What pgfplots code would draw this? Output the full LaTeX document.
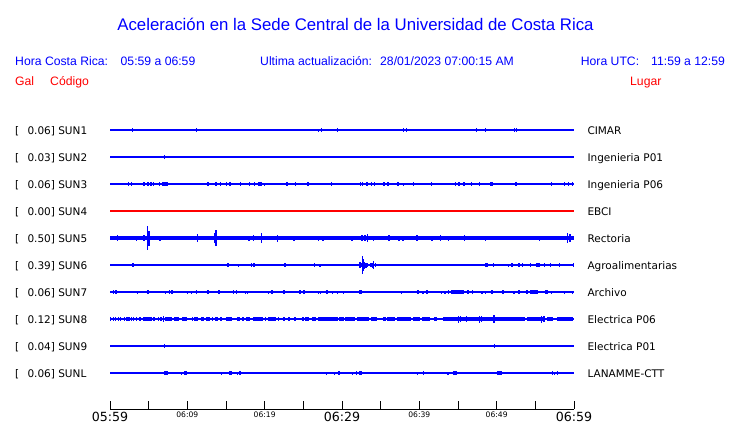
\documentclass[border=0pt]{standalone}
\usepackage{pgfplots}
\pgfplotsset{compat=1.18}
\usepackage{fontspec}
\setmainfont{Liberation Sans}
\newfontfamily\dejavu{DejaVu Sans}
\definecolor{pblue}{RGB}{0,0,255}
\definecolor{pred}{RGB}{255,0,0}
\pgfplotsset{
  spikes/.style={draw=none, mark=none, forget plot,
    error bars/.cd, y dir=both, y explicit, error mark=none,
    error bar style={draw=pblue, line width=1.3bp}},
  blocks/.style={draw=none, mark=none, forget plot,
    error bars/.cd, x dir=both, x explicit, error mark=none,
    error bar style={draw=pblue, line width=#1}},
  blocks/.default=3.3bp,
  base/.style={draw=pblue, line width=1.2bp, mark=none},
}
\newcommand{\hd}{\fontsize{12.2bp}{14bp}\selectfont}
\newcommand{\lb}{\dejavu\fontsize{10.5bp}{12bp}\selectfont}
\newcommand{\bigt}[1]{{\dejavu\fontsize{12.6bp}{12bp}\selectfont #1}}
\newcommand{\smt}[1]{{\dejavu\fontsize{7.6bp}{8bp}\selectfont #1}}
\begin{document}
\begin{tikzpicture}
\path[use as bounding box] (0,0) rectangle (740bp,-423bp);
% title and header
\node[anchor=base, text=pblue, inner sep=0pt] at (355.5bp,-30bp) {\fontsize{16.8bp}{20bp}\selectfont Aceleración en la Sede Central de la Universidad de Costa Rica};
\node[anchor=base west, text=pblue, inner sep=0pt] at (15bp,-65bp) {\hd Hora Costa Rica:};
\node[anchor=base west, text=pblue, inner sep=0pt] at (120.5bp,-65bp) {\hd 05:59 a 06:59};
\node[anchor=base west, text=pblue, inner sep=0pt] at (260bp,-65bp) {\hd Ultima actualización:};
\node[anchor=base west, text=pblue, inner sep=0pt] at (380bp,-65bp) {\hd 28/01/2023 07:00:15 AM};
\node[anchor=base west, text=pblue, inner sep=0pt] at (580.7bp,-65bp) {\hd Hora UTC:};
\node[anchor=base west, text=pblue, inner sep=0pt] at (651bp,-65bp) {\hd 11:59 a 12:59};
\node[anchor=base west, text=pred, inner sep=0pt] at (15bp,-85bp) {\hd Gal};
\node[anchor=base west, text=pred, inner sep=0pt] at (50bp,-85bp) {\hd Código};
\node[anchor=base west, text=pred, inner sep=0pt] at (630bp,-85bp) {\hd Lugar};
% station labels
\foreach \yy/\amp/\cod/\lug in {134.3/0.06/SUN1/CIMAR, 161.3/0.03/SUN2/Ingenieria P01, 188.3/0.06/SUN3/Ingenieria P06, 215.3/0.00/SUN4/EBCI, 242.3/0.50/SUN5/Rectoria, 269.3/0.39/SUN6/Agroalimentarias, 296.3/0.06/SUN7/Archivo, 323.3/0.12/SUN8/Electrica P06, 350.3/0.04/SUN9/Electrica P01, 377.3/0.06/SUNL/LANAMME-CTT}{
  \node[anchor=base west, inner sep=0pt] at (15bp,-\yy bp) {\lb [};
  \node[anchor=base west, inner sep=0pt] at (27.3bp,-\yy bp) {\lb \amp] \cod};
  \node[anchor=base west, inner sep=0pt] at (587.3bp,-\yy bp) {\lb \lug};
}
\begin{axis}[at={(110bp,-409bp)}, anchor=south west, scale only axis,
  width=464bp, height=290bp, xmin=0, xmax=60, ymin=0, ymax=290,
  axis x line=bottom, axis y line=none,
  axis line style={-, black, line width=0.8bp},
  xtick={0,5,...,60},
  xticklabels={\bigt{05:59},,\smt{06:09},,\smt{06:19},,\bigt{06:29},,\smt{06:39},,\smt{06:49},,\bigt{06:59}},
  tick align=inside, major tick length=8bp,
  tick style={black, line width=0.8bp},
  xticklabel style={text=black, inner sep=2.5bp},
  clip=false]
% ---- SUN1 (CIMAR)
\addplot[base] coordinates {(0,279) (60,279)};
\addplot[spikes] table[x=t, y expr=279, y error=a] {
t a
2.89 1.7
11.16 1.7
26.94 1.5
27.33 1.7
29.39 1.7
37.93 1.7
38.32 1.7
47.37 1.7
48.53 1.7
49.96 1.0
52.29 1.7
52.59 1.7
};
% ---- SUN2
\addplot[base] coordinates {(0,252) (60,252)};
\addplot[spikes] table[x=t, y expr=252, y error=a] {
t a
7.03 1.8
};
% ---- SUN3
\addplot[base] coordinates {(0,225) (60,225)};
\addplot[spikes] table[x=t, y expr=225, y error=a] {
t a
0.95 1.0
2.37 1.7
2.76 1.7
3.15 1.0
5.65 1.7
6.38 1.7
8.45 1.0
14.31 1.7
15.04 1.7
16.85 1.7
18.01 1.7
18.66 1.7
19.95 1.5
22.41 1.0
22.89 1.7
23.96 1.7
28.62 1.7
31.33 1.0
32.42 1.7
32.67 1.7
33.84 1.7
34.23 1.7
35.95 1.7
37.93 1.5
39.22 1.7
41.55 1.7
42.71 1.0
43.75 1.0
44.70 1.7
45.13 1.7
46.72 1.7
47.76 1.7
52.50 1.7
54.48 1.0
57.07 1.7
58.80 1.7
59.31 1.7
59.83 1.7
};
\addplot[blocks] table[x expr={(\thisrow{t0}+\thisrow{t1})/2}, y expr=225, x error expr={(\thisrow{t1}-\thisrow{t0})/2}] {
t0 t1
4.30 4.50
4.81 5.01
5.20 5.40
6.77 7.55
12.53 12.73
13.61 13.81
15.42 15.62
19.18 19.61
25.46 25.66
33.09 33.29
35.29 35.49
37.10 37.30
45.68 45.88
49.20 49.52
};
% ---- SUN4
\addplot[draw=pred, line width=1.2bp, mark=none] coordinates {(0,198) (60,198)};
% ---- SUN5 (Rectoria)
\addplot[blocks=3.6bp] table[x expr={(\thisrow{t0}+\thisrow{t1})/2}, y expr=171, x error expr={(\thisrow{t1}-\thisrow{t0})/2}] {
t0 t1
0.0 60.0
};
\addplot[spikes] table[x=t, y expr=171, y error=a] {
t a
0.99 3
3.45 2.5
4.40 3
4.83 12.3
5.05 7.5
6.47 2.5
11.29 4.3
12.63 2.2
13.55 5
13.71 8.3
15.09 2.2
17.97 2.5
18.53 3
19.57 4.7
21.68 3.5
22.20 2.2
23.79 2.5
26.99 2.5
27.54 2.5
28.54 2.2
29.35 2.2
31.29 2.5
32.59 3
32.98 3
33.32 4
34.10 2.5
36.08 3
37.37 2.5
37.89 2.5
39.70 3
41.64 2.5
42.71 3
43.80 2.5
44.78 2.2
45.82 3
46.90 2.2
48.58 2.5
48.84 2.2
53.45 2
54.48 2.2
54.79 2.2
55.52 2.5
59.19 5
59.49 4
};
% ---- SUN6 (Agroalimentarias)
\addplot[base] coordinates {(0,144) (60,144)};
\addplot[spikes] table[x=t, y expr=144, y error=a] {
t a
1.21 1.0
3.79 1.0
6.51 1.0
15.20 2.2
16.59 1.5
18.32 1.7
22.59 1.7
26.47 1.7
27.16 1.5
31.12 1.0
31.64 1.0
32.33 3
32.63 9.3
32.72 6
32.85 3.5
33.10 2.5
33.71 2
33.95 2.5
34.10 4
34.31 2
37.41 1.0
48.58 1.7
48.75 1.7
49.57 1.7
51.55 1.5
51.98 1.7
52.85 1.7
53.36 1.7
54.35 1.7
56.21 1.7
56.94 1.7
58.10 1.7
};
\addplot[blocks] table[x expr={(\thisrow{t0}+\thisrow{t1})/2}, y expr=144, x error expr={(\thisrow{t1}-\thisrow{t0})/2}] {
t0 t1
2.87 3.07
15.07 15.40
18.55 18.75
22.49 22.69
32.50 33.40
33.60 33.80
52.75 52.95
55.10 55.60
59.85 60.00
};
% ---- SUN7 (Archivo)
\addplot[base] coordinates {(0,117) (60,117)};
\addplot[spikes] table[x=t, y expr=117, y error=a] {
t a
0.43 1.7
0.78 1.7
1.85 1.0
3.53 1.5
6.77 1.0
7.15 1.5
7.67 1.7
8.84 1.0
10.04 1.5
10.52 1.5
12.67 1.7
14.09 1.7
14.53 1.0
16.38 1.7
17.54 1.5
17.80 1.5
19.22 1.0
20.48 1.5
20.95 1.7
24.57 1.7
25.65 1.0
26.99 1.5
27.20 1.5
28.75 1.5
29.39 1.5
30.22 1.5
30.65 1.0
31.46 1.0
35.47 1.0
36.42 1.0
37.67 1.5
38.49 1.0
40.47 1.5
42.33 1.0
42.84 1.5
43.32 1.5
43.80 1.7
48.10 1.5
48.58 1.5
52.24 1.5
54.35 1.5
57.07 1.5
58.80 1.5
59.79 1.5
};
\addplot[blocks] table[x expr={(\thisrow{t0}+\thisrow{t1})/2}, y expr=117, x error expr={(\thisrow{t1}-\thisrow{t0})/2}] {
t0 t1
4.77 4.97
7.87 8.07
11.06 11.26
15.85 16.05
22.40 22.60
24.94 25.14
27.96 28.16
32.20 32.55
39.68 39.88
40.85 41.05
44.10 45.75
46.15 46.35
46.75 46.95
49.25 49.50
50.65 50.90
52.79 52.99
53.82 54.02
54.30 55.35
56.20 56.70
};
% ---- SUN8 (Electrica P06)
\addplot[base] coordinates {(0,90) (60,90)};
\addplot[blocks=3.3bp] table[x expr={(\thisrow{t0}+\thisrow{t1})/2}, y expr=90, x error expr={(\thisrow{t1}-\thisrow{t0})/2}] {
t0 t1
4.31 5.39
7.11 7.97
8.32 8.92
9.35 9.92
10.90 11.42
11.77 12.12
12.46 12.97
13.58 14.01
14.22 14.53
15.04 15.82
16.46 16.81
17.63 18.14
18.53 19.82
20.48 21.42
22.33 22.63
22.97 23.32
24.78 25.09
25.26 25.77
26.08 26.60
26.85 29.53
29.74 29.96
30.35 31.68
31.90 33.53
33.71 34.49
35.34 35.69
35.86 36.85
37.07 38.88
39.22 40.09
40.31 41.38
41.90 42.33
43.10 53.66
53.88 55.60
55.60 56.25
56.47 57.33
57.76 59.91
};
\addplot[spikes] table[x=t, y expr=90, y error=a] {
t a
0.09 2
0.43 2
0.73 2
1.08 2
1.34 2
1.85 2
2.20 2
2.46 2
2.80 2
3.06 2
3.45 2
3.88 2
5.69 2
6.25 2
6.60 2
6.94 3
10.65 2
13.23 2
17.20 2
20.13 2
21.77 2
23.92 2
29.74 2
30.13 2
45.04 3.5
45.35 3
46.12 3
47.76 3.5
48.06 3
49.66 4
55.82 3.5
56.12 3
};
% ---- SUN9 (Electrica P01)
\addplot[base] coordinates {(0,63) (60,63)};
\addplot[spikes] table[x=t, y expr=63, y error=a] {
t a
7.03 1.8
45.39 1.0
49.70 1.8
};
% ---- SUNL (LANAMME-CTT)
\addplot[base] coordinates {(0,36) (60,36)};
\addplot[spikes] table[x=t, y expr=36, y error=a] {
t a
2.76 1.0
4.44 1.0
6.38 1.0
9.22 1.5
14.40 1.5
16.51 1.5
16.81 1.7
24.09 1.0
27.97 1.5
29.01 1.5
31.33 1.5
31.90 1.7
32.98 1.0
39.74 1.5
40.52 1.7
43.71 1.5
46.46 1.0
49.44 1.0
52.16 1.0
57.20 1.7
57.46 1.5
57.85 1.7
};
\addplot[blocks] table[x expr={(\thisrow{t0}+\thisrow{t1})/2}, y expr=36, x error expr={(\thisrow{t1}-\thisrow{t0})/2}] {
t0 t1
6.94 7.55
9.57 9.92
15.39 15.73
29.51 29.71
32.24 32.63
44.40 44.83
50.00 50.65
};
\end{axis}
\end{tikzpicture}
\end{document}
